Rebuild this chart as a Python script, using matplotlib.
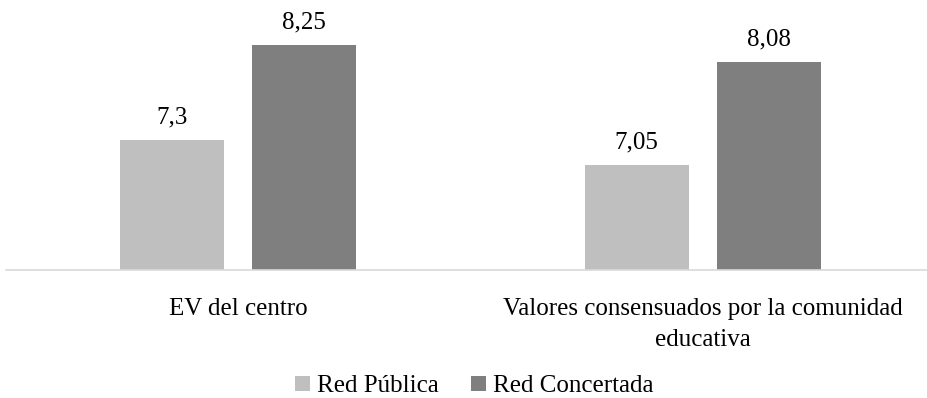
import numpy as np
import matplotlib
matplotlib.use("Agg")
import matplotlib.pyplot as plt

# datos
categorias = ["EV del centro", "Valores consensuados por la comunidad\neducativa"]
red_publica = [7.3, 7.05]
red_concertada = [8.25, 8.08]
series = ["Red Pública", "Red Concertada"]
etiquetas_pub = ["7,3", "7,05"]
etiquetas_con = ["8,25", "8,08"]

plt.rcParams['font.family'] = ['Liberation Serif', 'DejaVu Serif']
fs = 18

fig = plt.figure(figsize=(9.28, 3.98), dpi=100)
ax = fig.add_axes([6 / 928, 1 - 270 / 398, 921 / 928, 250 / 398])

x = np.arange(len(categorias))
w = 0.224
off = 0.142
b1 = ax.bar(x - off, red_publica, w, color="#BFBFBF", label=series[0], zorder=2)
b2 = ax.bar(x + off, red_concertada, w, color="#7F7F7F", label=series[1], zorder=2)

for barras, textos in [(b1, etiquetas_pub), (b2, etiquetas_con)]:
    for r, t in zip(barras, textos):
        ax.annotate(t, (r.get_x() + r.get_width() / 2, r.get_height()),
                    xytext=(0, 12.2), textcoords="offset points",
                    ha="center", va="baseline", fontsize=fs, color="#000000")

ax.set_ylim(6, 8.5)
ax.set_xlim(-0.5, 1.483)

for s in ["top", "right", "left"]:
    ax.spines[s].set_visible(False)
ax.spines["bottom"].set_color("#D9D9D9")
ax.spines["bottom"].set_linewidth(1.2)
ax.set_yticks([])
ax.set_xticks(x)
ax.set_xticklabels(categorias, fontsize=fs, linespacing=1.5)
ax.tick_params(axis="x", length=0, pad=20.5)

fig.legend(loc="center", bbox_to_anchor=(474 / 928, 1 - 386 / 398), ncol=2, frameon=False,
           fontsize=fs, handlelength=0.62, handleheight=0.56, handletextpad=0.25,
           columnspacing=1.3)

fig.savefig("out.png", dpi=100)
